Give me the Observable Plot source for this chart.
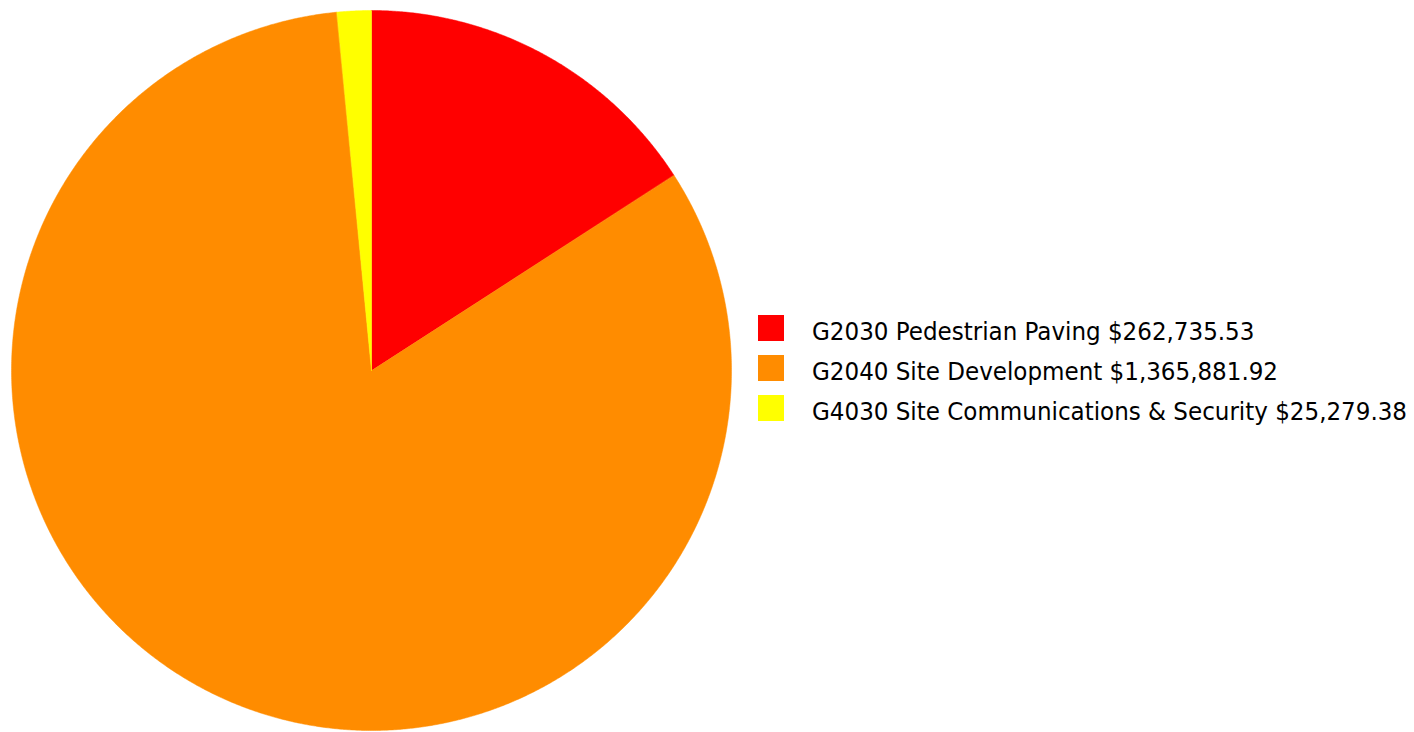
<!DOCTYPE html>
<html>
<head>
<meta charset="utf-8">
<script src="https://cdn.jsdelivr.net/npm/d3@7"></script>
<script src="https://cdn.jsdelivr.net/npm/@observablehq/plot@0.6"></script>
<style>
  html, body { margin: 0; padding: 0; background: #fff; }
  #wrap { position: relative; width: 1414px; height: 732px; overflow: hidden; }
  #legend { position: absolute; left: 758px; top: 315px; font-family: "DejaVu Sans Condensed", "DejaVu Sans", Verdana, sans-serif; font-stretch: condensed; font-size: 25.6px; color: #000; }
  .item { display: flex; align-items: center; height: 26px; margin-bottom: 14px; white-space: nowrap; }
  .sw { width: 26px; height: 26px; margin-right: 28px; flex: none; }
  .item span { position: relative; top: 3px; }
</style>
</head>
<body>
<div id="wrap"></div>
<script>
const categories = ["G2030 Pedestrian Paving", "G2040 Site Development", "G4030 Site Communications & Security"];
const values = [262735.53, 1365881.92, 25279.38];
const valueLabels = ["$262,735.53", "$1,365,881.92", "$25,279.38"];
const colors = ["#ff0000", "#ff8c00", "#ffff00"];

const data = categories.map((c, i) => ({category: c, value: values[i], label: valueLabels[i]}));
const arcs = d3.pie().sort(null).value(d => d.value)(data);

// planar slice polygons in unit-circle space (angle clockwise from 12 o'clock)
const features = arcs.map(a => {
  const n = Math.max(2, Math.ceil((a.endAngle - a.startAngle) / 0.005));
  const ring = [[0, 0]];
  for (let k = 0; k <= n; ++k) {
    const t = a.startAngle + (a.endAngle - a.startAngle) * k / n;
    ring.push([Math.sin(t), Math.cos(t)]);
  }
  ring.push([0, 0]);
  return {type: "Feature", properties: {category: a.data.category}, geometry: {type: "Polygon", coordinates: [ring.reverse()]}};
});
const bounds = {type: "MultiPoint", coordinates: [[-1, 0], [1, 0], [0, -1], [0, 1]]};

const chart = Plot.plot({
  width: 1414,
  height: 732,
  marginLeft: 11,
  marginRight: 683,
  marginTop: 10,
  marginBottom: 2,
  projection: {type: "reflect-y", domain: bounds},
  color: {domain: categories, range: colors},
  marks: [
    Plot.geo(features, {fill: d => d.properties.category, stroke: d => d.properties.category, strokeWidth: 0.5})
  ]
});
const wrap = document.getElementById("wrap");
wrap.appendChild(chart);

const color = chart.scale("color");
const legend = d3.select(wrap).append("div").attr("id", "legend");
const items = legend.selectAll("div").data(data).join("div").attr("class", "item");
items.append("div").attr("class", "sw").style("background", d => color.apply(d.category));
items.append("span").text(d => `${d.category} ${d.label}`);
</script>
</body>
</html>
